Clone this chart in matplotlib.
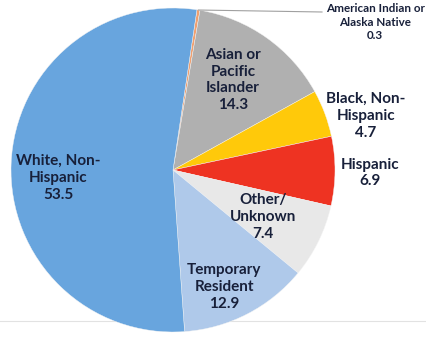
import numpy as np
import matplotlib.pyplot as plt

# Share of enrolment by group, percent
groups = ['American Indian or\nAlaska Native', 'Asian or\nPacific\nIslander', 'Black, Non-\nHispanic',
          'Hispanic', 'Other/\nUnknown', 'Temporary\nResident', 'White, Non-\nHispanic']
shares = [0.3, 14.3, 4.7, 6.9, 7.4, 12.9, 53.5]
colors = ['#f0a070', '#b0b0b0', '#ffc90a', '#ee3322', '#e8e8e8', '#afc9ea', '#68a5de']

# label centres in pixels (x, y from top)
label_px = [(375, 22), (233, 80), (366, 116), (370, 173), (263, 217), (224, 287), (58, 178)]
label_size = [8.4, 11, 11, 11, 11, 11, 11]

W, H = 426, 338
cx, cy, R = 173, 170, 162

fig = plt.figure(figsize=(W / 100, H / 100), dpi=100)
ax = fig.add_axes([0, 0, 1, 1])

wedges, _ = ax.pie(shares, colors=colors, startangle=81.5, counterclock=False,
                   radius=1, center=(0, 0),
                   wedgeprops=dict(linewidth=0.3, edgecolor='#f4f4f4'))

def to_data(px, py):
    return (px - cx) / R, (cy - py) / R

ax.set_xlim(to_data(0, 0)[0], to_data(W, 0)[0])
ax.set_ylim(to_data(0, H)[1], to_data(0, 0)[1])
ax.set_aspect('auto')
ax.axis('off')

# faint page line behind the pie
y_line = to_data(0, 321)[1]
ax.plot([-2, 2], [y_line, y_line], color='#e2e2e2', lw=0.8, zorder=0)

for name, val, (px, py), fs in zip(groups, shares, label_px, label_size):
    x, y = to_data(px, py)
    ax.text(x, y, f'{name}\n{val}', ha='center', va='center', fontsize=fs,
            fontweight='bold', family='Lato', color='#18203a', linespacing=1.25)

# leader line for the thin wedge
w = wedges[0]
mid = np.deg2rad((w.theta1 + w.theta2) / 2)
ax.plot([np.cos(mid), to_data(322, 12)[0]], [np.sin(mid), to_data(322, 12)[1]],
        color='#a0a0a0', lw=0.8)

fig.savefig('out.png', dpi=100)
